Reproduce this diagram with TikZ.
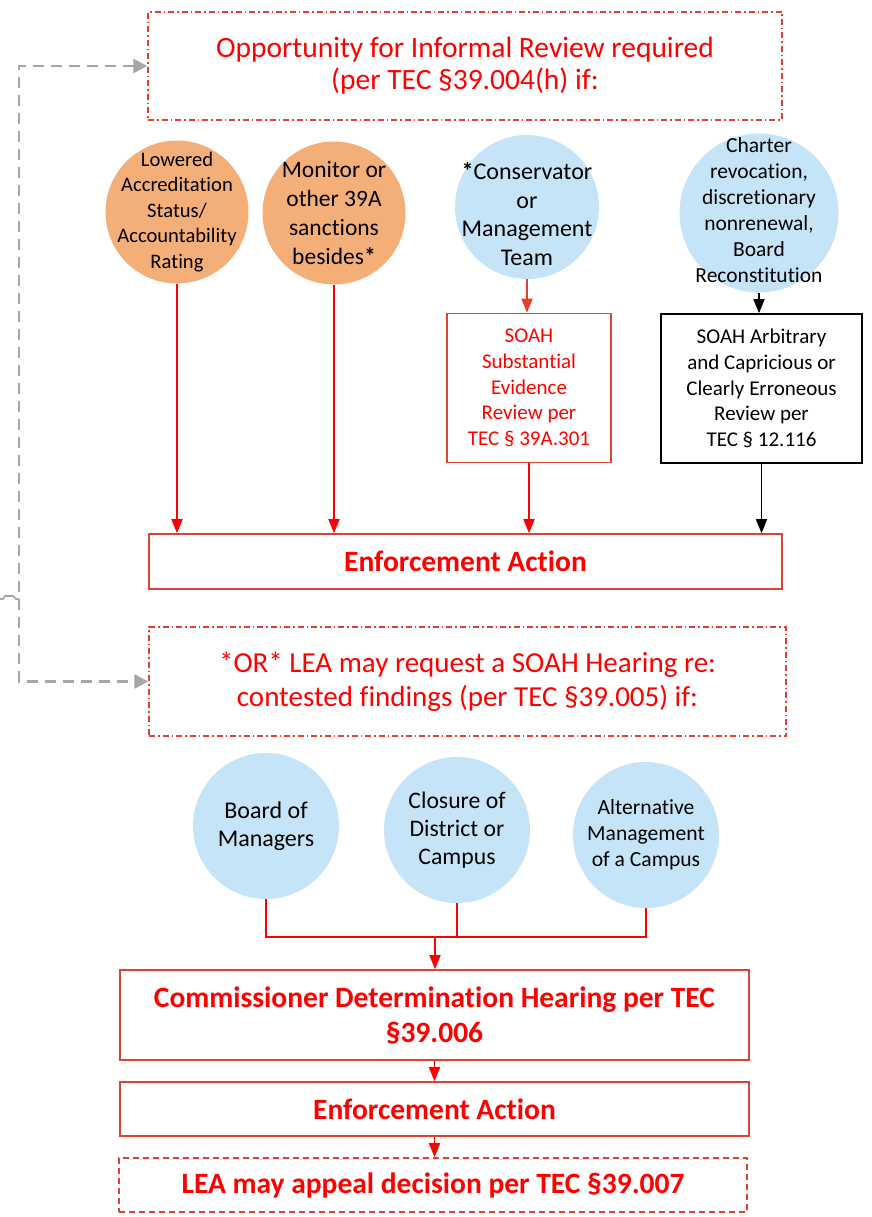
\documentclass[tikz,border=0pt]{standalone}
\usepackage{fontspec}
\setmainfont{Carlito}[Ligatures=NoCommon]
\usetikzlibrary{arrows.meta}
\definecolor{txtred}{HTML}{FF0000}
\definecolor{boxred}{HTML}{E2412F}
\definecolor{peach}{HTML}{F4AF78}
\definecolor{skyblue}{HTML}{C6E4F8}
\definecolor{dashgray}{HTML}{A6A6A6}
\newcommand{\txtsize}[2]{\fontsize{#1pt}{#2pt}\selectfont}

\begin{document}
\begin{tikzpicture}[x=1pt,y=-1pt,
    dotbox/.style={draw=boxred,line width=1.4pt,dash pattern=on 6pt off 3pt on 1.5pt off 3pt,align=center,text=txtred,inner sep=0pt},
    solidbox/.style={draw=boxred,line width=1.6pt,align=center,text=txtred,inner sep=0pt},
    peachdot/.style={circle,fill=peach,minimum size=143pt,inner sep=0pt},
    bluedot/.style={circle,fill=skyblue,minimum size=146pt,inner sep=0pt},
    dottext/.style={align=center,inner sep=0pt},
    redarrow/.style={draw=txtred,line width=1.8pt,-{Triangle[width=11pt,length=14pt]}},
    redline/.style={draw=txtred,line width=2.2pt},
    grayarrow/.style={draw=dashgray,line width=2.4pt,dash pattern=on 11pt off 7pt,
      {Triangle[width=14pt,length=14pt]}-{Triangle[width=14pt,length=14pt]}}]
  \useasboundingbox (0,0) rectangle (871,1217);

  % upper part
  \node[dotbox,minimum width=634pt,minimum height=108pt,font=\txtsize{29.5}{32}] (review) at (465,66)
    {Opportunity for Informal Review required\\ (per TEC §39.004(h) if:};

  \node[peachdot] (lowered) at (177,212) {};
  \node[dottext,font=\txtsize{20.6}{25.5}] at (lowered) {Lowered\\Accreditation\\Status/\\Accountability\\Rating};
  \node[peachdot] (monitor) at (334,213) {};
  \node[dottext,font=\txtsize{23.5}{28.7}] at (monitor) {Monitor or\\other 39A\\sanctions\\besides\textbf{*}};
  \node[bluedot,minimum size=144pt] (conserv) at (527,207) {};
  \node[dottext,font=\txtsize{24}{28.7}] at ([yshift=-7pt]conserv) {\textbf{*}Conservator\\or\\Management\\Team};
  \node[bluedot,minimum size=159pt] (charter) at (759,213) {};
  \node[dottext,font=\txtsize{21.5}{26}] at ([yshift=3pt]charter) {Charter\\revocation,\\discretionary\\nonrenewal,\\Board\\Reconstitution};

  \node[solidbox,minimum width=164pt,minimum height=149pt,font=\txtsize{21}{25.7}] (subst) at (529,388)
    {SOAH\\Substantial\\Evidence\\Review per\\TEC § 39A.301};
  \node[draw=black,line width=1.6pt,align=center,inner sep=0pt,minimum width=201pt,minimum height=149pt,font=\txtsize{21}{25.7}] (arbit) at (761.5,388.5)
    {SOAH Arbitrary\\and Capricious or\\Clearly Erroneous\\Review per\\TEC § 12.116};

  \node[solidbox,minimum width=633pt,minimum height=55pt,font=\txtsize{29.5}{32}\bfseries] (enforce) at (465.5,561.5)
    {Enforcement Action};

  \draw[redarrow] (lowered.south) -- (lowered.south |- enforce.north);
  \draw[redarrow] (monitor.south) -- (monitor.south |- enforce.north);
  \draw[redarrow,draw=boxred] (conserv.south) -- (conserv.south |- subst.north);
  \draw[redarrow] (subst.south) -- (subst.south |- enforce.north);
  \draw[redarrow,draw=black] (charter.south) -- (charter.south |- arbit.north);
  \draw[redarrow,draw=black] (arbit.south) -- (arbit.south |- enforce.north);

  % lower part
  \node[dotbox,minimum width=637pt,minimum height=109pt,font=\txtsize{29}{34}] (hearing) at (467.5,681.5)
    {*OR* LEA may request a SOAH Hearing re:\\contested findings (per TEC §39.005) if:};

  \coordinate (gx) at (19,0);
  \draw[grayarrow] (review.west) -- (review.west -| gx) -- (hearing.west -| gx) -- (hearing.west);
  \draw[dashgray,line width=1.6pt] (0,599) -- (3,599) -- (5,596) -- (13,596) -- (16,599) -- (gx |- 0,599);

  \node[bluedot] (managers) at (266,826) {};
  \node[dottext,font=\txtsize{24}{28}] at (managers) {Board of\\Managers};
  \node[bluedot] (closure) at (457,830) {};
  \node[dottext,font=\txtsize{23.7}{28}] at (closure) {Closure of\\District or\\Campus};
  \node[bluedot] (altman) at (646,835) {};
  \node[dottext,font=\txtsize{21.6}{26}] at (altman) {Alternative\\Management\\of a Campus};

  \node[solidbox,minimum width=629pt,minimum height=90pt,font=\txtsize{29.5}{35}\bfseries] (commish) at (434.5,1015)
    {Commissioner Determination Hearing per TEC\\§39.006};
  \node[solidbox,minimum width=629pt,minimum height=54pt,font=\txtsize{29.5}{32}\bfseries] (enforce2) at (434.5,1109)
    {Enforcement Action};
  \node[solidbox,dash pattern=on 6pt off 4pt,minimum width=628pt,minimum height=54pt,font=\txtsize{29.5}{32}\bfseries] (appeal) at (433,1185)
    {LEA may appeal decision per TEC §39.007};

  \coordinate (join) at (435,937);
  \draw[redline] (managers.south) |- (join);
  \draw[redline] (closure.south) |- (join);
  \draw[redline] (altman.south) |- (join);
  \draw[redarrow] (join) -- (join |- commish.north);
  \draw[redarrow] (commish.south) -- (enforce2.north);
  \draw[redarrow] (enforce2.south) -- (enforce2.south |- appeal.north);
\end{tikzpicture}
\end{document}
